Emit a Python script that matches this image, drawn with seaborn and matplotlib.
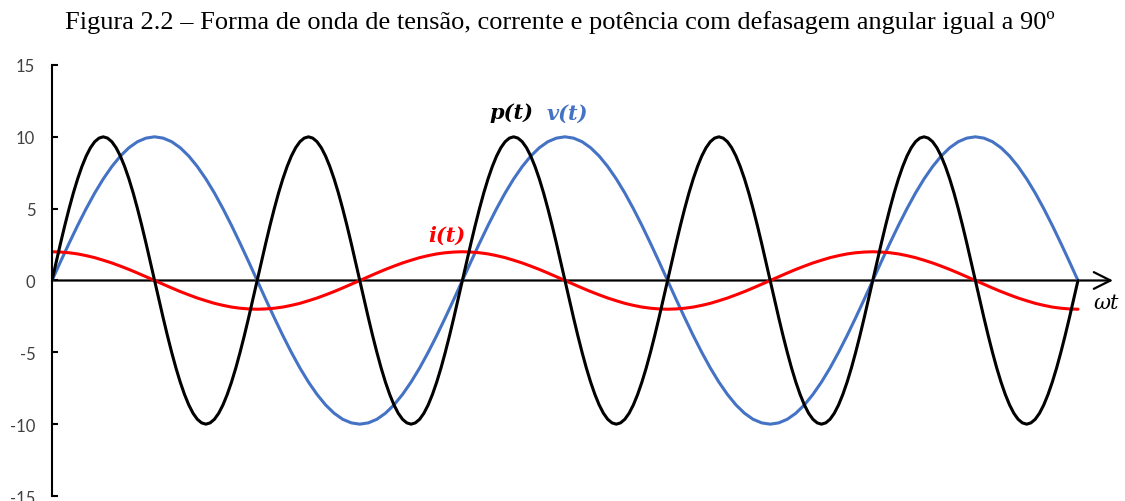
import matplotlib
matplotlib.use("Agg")
import matplotlib.pyplot as plt
import numpy as np
import pandas as pd
import seaborn as sns

# Angle axes (degrees): voltage/current every 7.5 degrees, power every 3.75 degrees
angle_vi = np.arange(0, 900.01, 7.5)
angle_p = np.arange(0, 900.01, 3.75)

# v(t): voltage (amplitude 10)
v_values = [
    0.0, 1.31, 2.59, 3.83, 5.0, 6.09, 7.07, 7.93, 8.66, 9.24, 9.66, 9.91,
    10.0, 9.91, 9.66, 9.24, 8.66, 7.93, 7.07, 6.09, 5.0, 3.83, 2.59, 1.31,
    0.0, -1.31, -2.59, -3.83, -5.0, -6.09, -7.07, -7.93, -8.66, -9.24, -9.66, -9.91,
    -10.0, -9.91, -9.66, -9.24, -8.66, -7.93, -7.07, -6.09, -5.0, -3.83, -2.59, -1.31,
    0.0, 1.31, 2.59, 3.83, 5.0, 6.09, 7.07, 7.93, 8.66, 9.24, 9.66, 9.91,
    10.0, 9.91, 9.66, 9.24, 8.66, 7.93, 7.07, 6.09, 5.0, 3.83, 2.59, 1.31,
    0.0, -1.31, -2.59, -3.83, -5.0, -6.09, -7.07, -7.93, -8.66, -9.24, -9.66, -9.91,
    -10.0, -9.91, -9.66, -9.24, -8.66, -7.93, -7.07, -6.09, -5.0, -3.83, -2.59, -1.31,
    0.0, 1.31, 2.59, 3.83, 5.0, 6.09, 7.07, 7.93, 8.66, 9.24, 9.66, 9.91,
    10.0, 9.91, 9.66, 9.24, 8.66, 7.93, 7.07, 6.09, 5.0, 3.83, 2.59, 1.31,
    0.0,
]

# i(t): current (amplitude 2), 90 degrees ahead of the voltage
i_values = [
    2.0, 1.98, 1.93, 1.85, 1.73, 1.59, 1.41, 1.22, 1.0, 0.77, 0.52, 0.26,
    0.0, -0.26, -0.52, -0.77, -1.0, -1.22, -1.41, -1.59, -1.73, -1.85, -1.93, -1.98,
    -2.0, -1.98, -1.93, -1.85, -1.73, -1.59, -1.41, -1.22, -1.0, -0.77, -0.52, -0.26,
    0.0, 0.26, 0.52, 0.77, 1.0, 1.22, 1.41, 1.59, 1.73, 1.85, 1.93, 1.98,
    2.0, 1.98, 1.93, 1.85, 1.73, 1.59, 1.41, 1.22, 1.0, 0.77, 0.52, 0.26,
    0.0, -0.26, -0.52, -0.77, -1.0, -1.22, -1.41, -1.59, -1.73, -1.85, -1.93, -1.98,
    -2.0, -1.98, -1.93, -1.85, -1.73, -1.59, -1.41, -1.22, -1.0, -0.77, -0.52, -0.26,
    0.0, 0.26, 0.52, 0.77, 1.0, 1.22, 1.41, 1.59, 1.73, 1.85, 1.93, 1.98,
    2.0, 1.98, 1.93, 1.85, 1.73, 1.59, 1.41, 1.22, 1.0, 0.77, 0.52, 0.26,
    0.0, -0.26, -0.52, -0.77, -1.0, -1.22, -1.41, -1.59, -1.73, -1.85, -1.93, -1.98,
    -2.0,
]

# p(t): instantaneous power, double frequency (one value every 3.75 degrees)
p_values = [
    0.0, 1.31, 2.59, 3.83, 5.0, 6.09, 7.07, 7.93, 8.66, 9.24, 9.66, 9.91,
    10.0, 9.91, 9.66, 9.24, 8.66, 7.93, 7.07, 6.09, 5.0, 3.83, 2.59, 1.31,
    0.0, -1.31, -2.59, -3.83, -5.0, -6.09, -7.07, -7.93, -8.66, -9.24, -9.66, -9.91,
    -10.0, -9.91, -9.66, -9.24, -8.66, -7.93, -7.07, -6.09, -5.0, -3.83, -2.59, -1.31,
    0.0, 1.31, 2.59, 3.83, 5.0, 6.09, 7.07, 7.93, 8.66, 9.24, 9.66, 9.91,
    10.0, 9.91, 9.66, 9.24, 8.66, 7.93, 7.07, 6.09, 5.0, 3.83, 2.59, 1.31,
    0.0, -1.31, -2.59, -3.83, -5.0, -6.09, -7.07, -7.93, -8.66, -9.24, -9.66, -9.91,
    -10.0, -9.91, -9.66, -9.24, -8.66, -7.93, -7.07, -6.09, -5.0, -3.83, -2.59, -1.31,
    0.0, 1.31, 2.59, 3.83, 5.0, 6.09, 7.07, 7.93, 8.66, 9.24, 9.66, 9.91,
    10.0, 9.91, 9.66, 9.24, 8.66, 7.93, 7.07, 6.09, 5.0, 3.83, 2.59, 1.31,
    0.0, -1.31, -2.59, -3.83, -5.0, -6.09, -7.07, -7.93, -8.66, -9.24, -9.66, -9.91,
    -10.0, -9.91, -9.66, -9.24, -8.66, -7.93, -7.07, -6.09, -5.0, -3.83, -2.59, -1.31,
    0.0, 1.31, 2.59, 3.83, 5.0, 6.09, 7.07, 7.93, 8.66, 9.24, 9.66, 9.91,
    10.0, 9.91, 9.66, 9.24, 8.66, 7.93, 7.07, 6.09, 5.0, 3.83, 2.59, 1.31,
    0.0, -1.31, -2.59, -3.83, -5.0, -6.09, -7.07, -7.93, -8.66, -9.24, -9.66, -9.91,
    -10.0, -9.91, -9.66, -9.24, -8.66, -7.93, -7.07, -6.09, -5.0, -3.83, -2.59, -1.31,
    0.0, 1.31, 2.59, 3.83, 5.0, 6.09, 7.07, 7.93, 8.66, 9.24, 9.66, 9.91,
    10.0, 9.91, 9.66, 9.24, 8.66, 7.93, 7.07, 6.09, 5.0, 3.83, 2.59, 1.31,
    0.0, -1.31, -2.59, -3.83, -5.0, -6.09, -7.07, -7.93, -8.66, -9.24, -9.66, -9.91,
    -10.0, -9.91, -9.66, -9.24, -8.66, -7.93, -7.07, -6.09, -5.0, -3.83, -2.59, -1.31,
    0.0,
]

y_ticks = [-15, -10, -5, 0, 5, 10, 15]
title_text = "Figura 2.2 – Forma de onda de tensão, corrente e potência com defasagem angular igual a 90º"

sns.set_theme(style="white")
plt.rcParams["font.family"] = ["Lato", "DejaVu Sans"]

df_vi = pd.DataFrame({"ang": angle_vi, "v": v_values, "i": i_values})
df_p = pd.DataFrame({"ang": angle_p, "p": p_values})

fig = plt.figure(figsize=(11.25, 5.02), dpi=100)
ax = fig.add_axes([0.0462, 0.00996, 0.9431, 0.8586])

blue = "#4472C4"
red = "#FF0000"
lw = 2.2
sns.lineplot(data=df_vi, x="ang", y="v", color=blue, lw=lw, ax=ax, sort=False, estimator=None)
sns.lineplot(data=df_vi, x="ang", y="i", color=red, lw=lw, ax=ax, sort=False, estimator=None)
sns.lineplot(data=df_p, x="ang", y="p", color="black", lw=lw, ax=ax, sort=False, estimator=None)

x_max = 930.7
ax.set_xlim(0, x_max)
ax.set_ylim(-15, 15)
ax.set_xlabel("")
ax.set_ylabel("")
ax.set_xticks([])
ax.set_yticks(y_ticks)
ax.set_yticklabels([str(t) for t in y_ticks])
ax.tick_params(axis="y", direction="in", length=4.5, width=1.5, color="black",
               labelsize=12, labelcolor="#404040", pad=12, left=True)

for side in ["top", "right", "bottom"]:
    ax.spines[side].set_visible(False)
ax.spines["left"].set_color("black")
ax.spines["left"].set_linewidth(1.5)

# Horizontal axis with arrow head
ax.annotate("", xy=(x_max, 0), xytext=(0, 0), xycoords="data",
            arrowprops=dict(arrowstyle="->", lw=1.6, color="black", mutation_scale=30,
                            shrinkA=0, shrinkB=0), annotation_clip=False, zorder=1)

lab_kw = dict(family="DejaVu Serif", fontweight="bold", fontstyle="italic",
              fontsize=15, ha="center", va="center")
ax.text(403.5, 11.7, "p(t)", color="black", **lab_kw)
ax.text(451.8, 11.7, "v(t)", color=blue, **lab_kw)
ax.text(346.5, 3.2, "i(t)", color=red, **lab_kw)
ax.text(925, -1.5, "ωt", color="black", family="DejaVu Serif", fontstyle="italic",
        fontsize=15, ha="center", va="center", clip_on=False)

fig.text(0.498, 0.956, title_text, family="Liberation Serif", fontsize=19,
         ha="center", va="center", color="black")

fig.savefig("out.png", dpi=100)
